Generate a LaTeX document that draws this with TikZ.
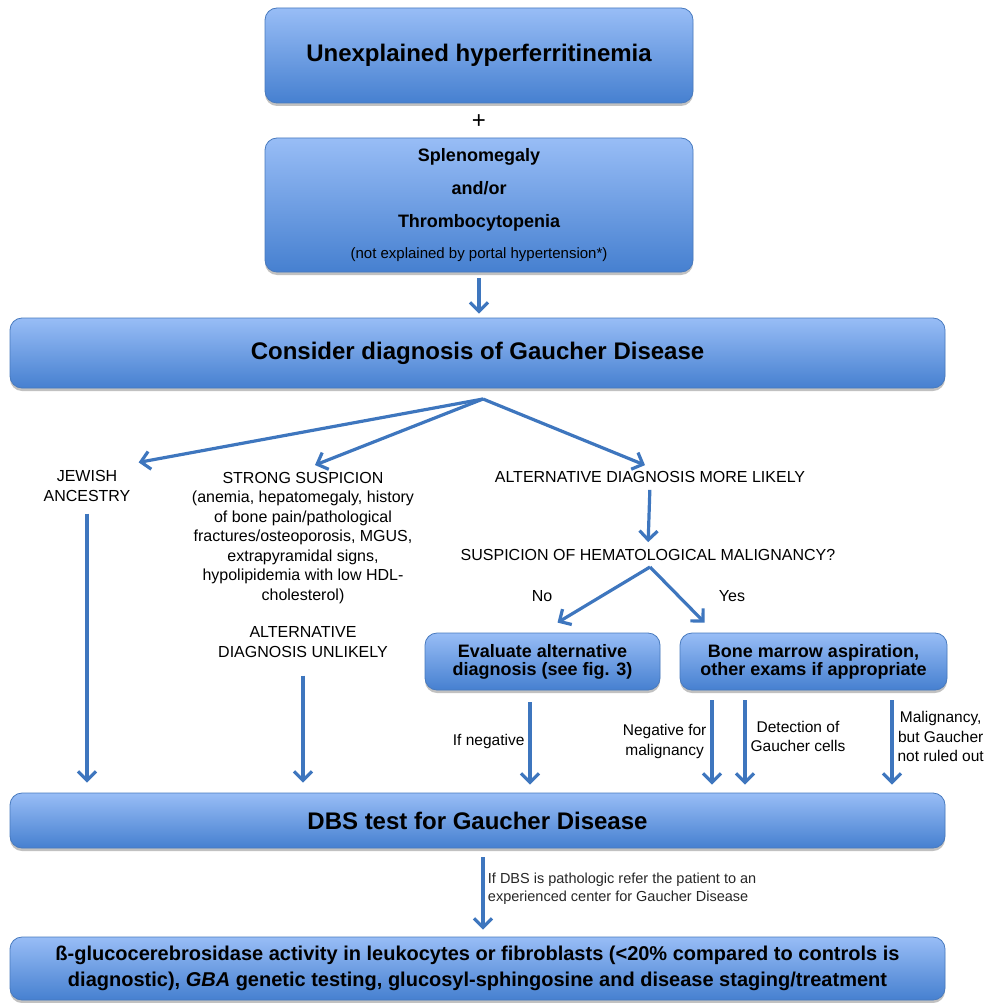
\documentclass[tikz,border=0pt]{standalone}
\usepackage{fontspec}
\setmainfont{Liberation Sans}
\usetikzlibrary{positioning, arrows.meta, shadows}
\definecolor{gdtop}{RGB}{152,189,246}
\definecolor{gdbot}{RGB}{70,128,208}
\definecolor{gdline}{RGB}{72,122,190}
\definecolor{gdarr}{RGB}{62,118,190}

\begin{document}
\begin{tikzpicture}[
    x=1pt, y=-1pt,
    box/.style = {draw=gdline, line width=0.8pt, top color=gdtop, bottom color=gdbot,
                  rounded corners=12pt, align=center, inner sep=0pt,
                  drop shadow={shadow xshift=0pt, shadow yshift=-3pt,
                               opacity=0.35, fill=black!70}},
    wide/.style = {box, minimum width=935pt},
    txt/.style  = {align=center, inner sep=2pt, font=\fontsize{16}{19.5}\selectfont},
    lbl/.style  = {align=center, inner sep=4pt, text=black,
                   font=\fontsize{15.5}{19.5}\selectfont},
    arr/.style  = {-{Straight Barb[length=9pt, width=18pt]}, line width=3.2pt, gdarr},
  ]
    \useasboundingbox (0,0) rectangle (993,1003);

    % top of the chart
    \node[box, minimum width=428pt, minimum height=95pt,
          font=\fontsize{24}{28}\selectfont\bfseries] (hyper) at (479,55.5)
      {Unexplained hyperferritinemia};
    \node[font=\fontsize{24}{24}\selectfont] (plus) at (479,122) {+};
    \node[box, minimum width=428pt, minimum height=134pt,
          font=\fontsize{18}{33}\selectfont\bfseries] (spleno) at (479,205)
      {Splenomegaly\\and/or\\Thrombocytopenia\\[-2pt]
       {\fontsize{15}{18}\selectfont\mdseries (not explained by portal hypertension*)}};
    \node[wide, minimum height=70pt, font=\fontsize{24}{28}\selectfont\bfseries]
      (consider) at (477.5,353) {Consider diagnosis of Gaucher Disease};
    \draw[arr, shorten <=6pt, shorten >=4pt] (spleno.south) -- (spleno.south |- consider.north);

    % three branches
    \coordinate (split) at (483,399);
    \node[txt] (jewish) at (87,486) {JEWISH\\ANCESTRY};
    \node[txt] (strong) at (303,538)
      {STRONG SUSPICION\\(anemia, hepatomegaly, history\\of bone pain/pathological\\
       fractures/osteoporosis, MGUS,\\extrapyramidal signs,\\
       hypolipidemia with low HDL-\\cholesterol)};
    \node[txt] (unlikely) at (303,642) {ALTERNATIVE\\DIAGNOSIS UNLIKELY};
    \node[txt] (altmore) at (650,477) {ALTERNATIVE DIAGNOSIS MORE LIKELY};
    \node[txt] (susp) at (648,555) {SUSPICION OF HEMATOLOGICAL MALIGNANCY?};
    \draw[arr] (split) -- ([xshift=6pt, yshift=6pt]jewish.north east);
    \draw[arr] (split) -- ([xshift=12pt, yshift=5pt]strong.north);
    \draw[arr] (split) -- ([xshift=-5pt, yshift=4pt]altmore.north);
    \draw[arr, shorten <=5pt, shorten >=5pt] (altmore.south) -- (susp.north);

    % no / yes
    \coordinate (fork) at (650,567);
    \node[box, minimum width=235pt, minimum height=57pt,
          font=\fontsize{18}{18}\selectfont\bfseries] (eval) at (542.5,661.5)
      {Evaluate alternative\\diagnosis (see fig. 3)};
    \node[box, minimum width=267pt, minimum height=57pt,
          font=\fontsize{18}{18}\selectfont\bfseries] (bone) at (813.5,661.5)
      {Bone marrow aspiration,\\other exams if appropriate};
    \draw[arr] (fork) -- ([xshift=15pt, yshift=10pt]eval.north);
    \draw[arr] (fork) -- ([xshift=25pt, yshift=10pt]bone.north west);
    \node[txt] (no) at (542,596) {No};
    \node[txt] (yes) at (732,596) {Yes};

    % DBS
    \node[wide, minimum height=55pt, font=\fontsize{24}{28}\selectfont\bfseries]
      (dbs) at (477.5,820.5) {DBS test for Gaucher Disease};
    \draw[arr, shorten <=10pt, shorten >=10pt] (jewish.south) -- (jewish.south |- dbs.north);
    \draw[arr, shorten <=16pt, shorten >=10pt] (unlikely.south) -- (unlikely.south |- dbs.north);
    \draw[arr, shorten <=12pt, shorten >=8pt]
      ([xshift=-12.5pt]eval.south) -- ([xshift=-12.5pt]eval.south |- dbs.north)
      node[lbl, midway, left] {If negative};
    \draw[arr, shorten <=10pt, shorten >=8pt]
      ([xshift=-101.5pt]bone.south) -- ([xshift=-101.5pt]bone.south |- dbs.north)
      node[lbl, midway, left] {Negative for\\malignancy};
    \draw[arr, shorten <=10pt, shorten >=8pt]
      ([xshift=-68.5pt]bone.south) -- ([xshift=-68.5pt]bone.south |- dbs.north)
      node[lbl, midway, right, yshift=5pt] {Detection of\\Gaucher cells};
    \draw[arr, shorten <=10pt, shorten >=8pt]
      ([xshift=78.5pt]bone.south) -- ([xshift=78.5pt]bone.south |- dbs.north)
      node[lbl, midway, right, yshift=5pt] {Malignancy,\\but Gaucher\\not ruled out};

    % final step
    \node[wide, minimum height=63pt, font=\fontsize{20}{26}\selectfont\bfseries]
      (final) at (477.5,968.5)
      {ß-glucocerebrosidase activity in leukocytes or fibroblasts (<20\% compared to controls is\\
       diagnostic), \textit{GBA} genetic testing, glucosyl-sphingosine and disease staging/treatment};
    \draw[arr, shorten <=9pt, shorten >=7pt] (dbs.south -| split) -- (final.north -| split)
      node[midway, right, align=left, text=black!85, font=\fontsize{14.5}{18}\selectfont, yshift=4pt]
      {If DBS is pathologic refer the patient to an\\experienced center for Gaucher Disease};
  \end{tikzpicture}
\end{document}
